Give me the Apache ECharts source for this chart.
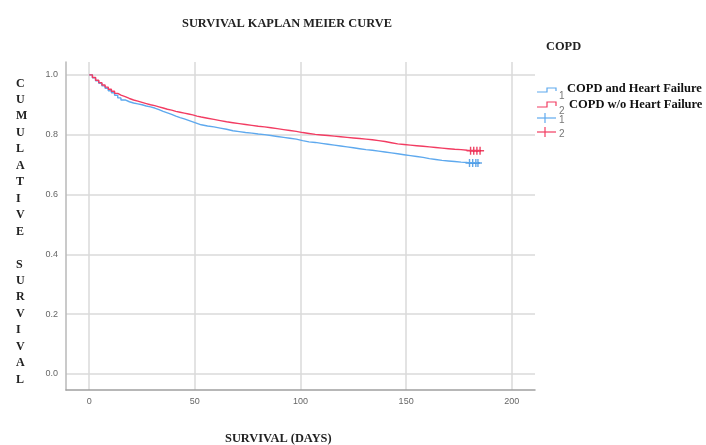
<html>
<head>
<script src="https://cdn.jsdelivr.net/npm/echarts@6/dist/echarts.min.js"></script>
</head>
<body style="margin:0">
<div id="main" style="width:706px;height:445px;"></div>
<script>
// COPD and Heart Failure (1)
var hfDays = [0, 1.5, 3, 4.5, 6, 7.5, 9, 10.5, 12, 13.5, 15, 17, 19, 21, 23, 25, 27, 29, 31, 33, 35, 37, 39, 41, 43, 45, 47, 49, 51, 53, 56, 59, 62, 65, 68, 71, 74, 77, 80, 83, 86, 89, 92, 95, 98, 101, 104, 107, 110, 113, 116, 119, 122, 125, 128, 131, 134, 137, 140, 143, 146, 149, 152, 155, 158, 161, 164, 167, 170, 173, 176, 179, 184];
var hfSurv = [1.0, 0.99, 0.98, 0.972, 0.963, 0.955, 0.947, 0.94, 0.932, 0.923, 0.916, 0.91, 0.906, 0.903, 0.9, 0.896, 0.893, 0.889, 0.884, 0.878, 0.873, 0.868, 0.862, 0.857, 0.853, 0.848, 0.843, 0.838, 0.833, 0.829, 0.826, 0.822, 0.818, 0.813, 0.81, 0.807, 0.805, 0.802, 0.8, 0.797, 0.794, 0.791, 0.788, 0.785, 0.78, 0.776, 0.774, 0.771, 0.768, 0.765, 0.762, 0.759, 0.756, 0.753, 0.75, 0.748, 0.745, 0.742, 0.739, 0.736, 0.733, 0.73, 0.727, 0.724, 0.72, 0.717, 0.714, 0.712, 0.71, 0.708, 0.707, 0.706, 0.705];
// COPD w/o Heart Failure (2)
var noHfDays = [0, 1.5, 3, 4.5, 6, 7.5, 9, 10.5, 12, 13.5, 15, 17, 19, 21, 23, 25, 27, 29, 31, 33, 35, 37, 39, 41, 43, 45, 47, 49, 51, 53, 56, 59, 62, 65, 68, 71, 74, 77, 80, 83, 86, 89, 92, 95, 98, 101, 104, 107, 110, 113, 116, 119, 122, 125, 128, 131, 134, 137, 140, 143, 146, 149, 152, 155, 158, 161, 164, 167, 170, 173, 176, 179, 185];
var noHfSurv = [1.0, 0.991, 0.982, 0.974, 0.966, 0.959, 0.952, 0.945, 0.938, 0.932, 0.927, 0.921, 0.916, 0.912, 0.908, 0.904, 0.9, 0.897, 0.893, 0.889, 0.885, 0.882, 0.878, 0.875, 0.872, 0.869, 0.866, 0.862, 0.859, 0.855, 0.851, 0.847, 0.843, 0.84, 0.837, 0.834, 0.831, 0.828, 0.826, 0.823, 0.82, 0.817, 0.814, 0.811, 0.807, 0.804, 0.801, 0.799, 0.797, 0.795, 0.793, 0.791, 0.789, 0.787, 0.785, 0.783, 0.78, 0.777, 0.773, 0.769, 0.767, 0.765, 0.763, 0.761, 0.759, 0.757, 0.755, 0.753, 0.751, 0.75, 0.748, 0.747, 0.746];
// censored cases
var hfCensDays = [180, 181.5, 183, 184];
var hfCensSurv = [0.705, 0.705, 0.705, 0.705];
var noHfCensDays = [180.5, 182, 183.5, 185];
var noHfCensSurv = [0.746, 0.746, 0.746, 0.746];

var xTicks = [0, 50, 100, 150, 200];
var yTicks = [0.0, 0.2, 0.4, 0.6, 0.8, 1.0];

var blue = '#5ea9ee', red = '#f23c62';
var blueMark = '#3b90e0', redMark = '#e8173f';
var serif = 'Liberation Serif';
var plus = 'path://M0,3.3H8V4.7H0Z M3.3,0H4.7V8H3.3Z';

function zip(a, b) { return a.map(function (v, i) { return [v, b[i]]; }); }

var yLetters = 'CUMULATIVE SURVIVAL'.split('');

var myChart = echarts.init(document.getElementById('main'));

var option = {
    animation: false,
    backgroundColor: '#fff',
    title: {
        text: 'SURVIVAL KAPLAN MEIER CURVE',
        left: 177, top: 9,
        textStyle: { fontFamily: serif, fontWeight: 'bold', fontSize: 12.4, color: '#222' }
    },
    grid: { left: 66, right: 171, top: 62, bottom: 55 },
    xAxis: {
        type: 'value',
        min: -11, max: 211,
        minInterval: 50, maxInterval: 50,
        axisLine: { onZero: false, lineStyle: { color: '#a0a0a0', width: 1.5 } },
        axisTick: { show: false },
        axisLabel: {
            color: '#666', fontSize: 9, fontFamily: 'Liberation Sans', margin: 4,
            formatter: function (v) { return xTicks.indexOf(v) >= 0 ? String(v) : ''; }
        },
        splitLine: { show: true, showMinLine: false, showMaxLine: false, lineStyle: { color: '#dadada', width: 1.5 } }
    },
    yAxis: {
        type: 'value',
        min: -0.054, max: 1.043,
        minInterval: 0.2, maxInterval: 0.2,
        axisLine: { show: true, onZero: false, lineStyle: { color: '#b8b8b8', width: 1.5 } },
        axisTick: { show: false },
        axisLabel: {
            color: '#666', fontSize: 9, fontFamily: 'Liberation Sans', margin: 8,
            formatter: function (v) {
                for (var i = 0; i < yTicks.length; i++) {
                    if (Math.abs(v - yTicks[i]) < 1e-6) return yTicks[i].toFixed(1);
                }
                return '';
            }
        },
        splitLine: { show: true, showMinLine: false, showMaxLine: false, lineStyle: { color: '#dadada', width: 1.5 } }
    },
    series: [
        {
            name: 'COPD and Heart Failure', type: 'line', step: 'end', showSymbol: false,
            data: zip(hfDays, hfSurv),
            lineStyle: { color: blue, width: 1.4 }, itemStyle: { color: blue }
        },
        {
            name: 'COPD w/o Heart Failure', type: 'line', step: 'end', showSymbol: false,
            data: zip(noHfDays, noHfSurv),
            lineStyle: { color: red, width: 1.4 }, itemStyle: { color: red }
        },
        {
            name: '1', type: 'scatter', symbol: plus, symbolSize: 8,
            data: zip(hfCensDays, hfCensSurv),
            itemStyle: { color: blueMark }
        },
        {
            name: '2', type: 'scatter', symbol: plus, symbolSize: 8,
            data: zip(noHfCensDays, noHfCensSurv),
            itemStyle: { color: redMark }
        }
    ],
    graphic: [
        {
            type: 'text', left: 16, top: 74,
            style: {
                text: yLetters.join('\n'), fontFamily: serif, fontWeight: 'bold', fontSize: 12,
                lineHeight: 16.45, fill: '#222', align: 'center', width: 12
            }
        },
        {
            type: 'text', left: 225, top: 429,
            style: { text: 'SURVIVAL (DAYS)', fontFamily: serif, fontWeight: 'bold', fontSize: 12.4, fill: '#222' }
        },
        {
            type: 'text', left: 546, top: 37,
            style: { text: 'COPD', fontFamily: serif, fontWeight: 'bold', fontSize: 12.4, fill: '#222' }
        },
        // legend item 1
        { type: 'polyline', shape: { points: [[537, 92], [547, 92], [547, 88], [556, 88], [556, 91]] }, style: { stroke: blue, lineWidth: 1.2, fill: 'none' } },
        { type: 'text', left: 559, top: 88, style: { text: '1', fontFamily: 'Liberation Sans', fontSize: 10, fill: '#777' } },
        { type: 'text', left: 567, top: 79, style: { text: 'COPD and Heart Failure', fontFamily: serif, fontWeight: 'bold', fontSize: 12.5, fill: '#111' } },
        // legend item 2
        { type: 'polyline', shape: { points: [[537, 107], [547, 107], [547, 102], [556, 102], [556, 106]] }, style: { stroke: red, lineWidth: 1.2, fill: 'none' } },
        { type: 'text', left: 559, top: 103, style: { text: '2', fontFamily: 'Liberation Sans', fontSize: 10, fill: '#777' } },
        { type: 'text', left: 569, top: 95, style: { text: 'COPD w/o Heart Failure', fontFamily: serif, fontWeight: 'bold', fontSize: 12.5, fill: '#111' } },
        // legend item 3
        { type: 'line', shape: { x1: 537, y1: 118, x2: 556, y2: 118 }, style: { stroke: blue, lineWidth: 1.2 } },
        { type: 'line', shape: { x1: 545, y1: 113, x2: 545, y2: 123 }, style: { stroke: blue, lineWidth: 1.2 } },
        { type: 'text', left: 559, top: 112, style: { text: '1', fontFamily: 'Liberation Sans', fontSize: 10, fill: '#777' } },
        // legend item 4
        { type: 'line', shape: { x1: 537, y1: 132, x2: 556, y2: 132 }, style: { stroke: red, lineWidth: 1.2 } },
        { type: 'line', shape: { x1: 545, y1: 127, x2: 545, y2: 137 }, style: { stroke: red, lineWidth: 1.2 } },
        { type: 'text', left: 559, top: 126, style: { text: '2', fontFamily: 'Liberation Sans', fontSize: 10, fill: '#777' } }
    ]
};

myChart.setOption(option);
</script>
</body>
</html>
